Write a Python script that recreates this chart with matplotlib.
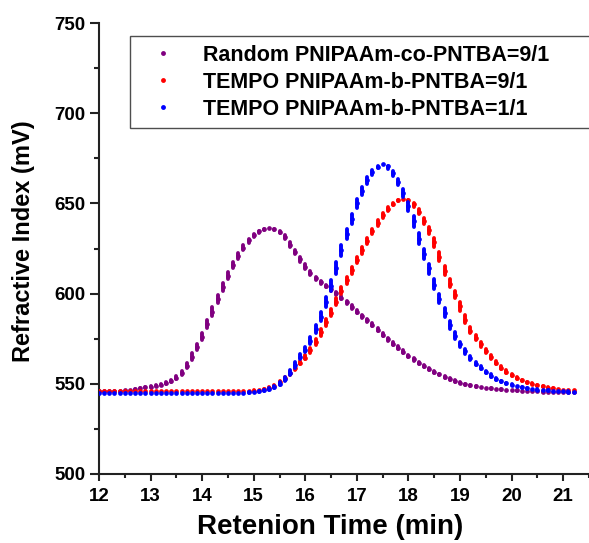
import numpy as np
import matplotlib
matplotlib.use("Agg")
import matplotlib.pyplot as plt
from matplotlib.lines import Line2D

plt.rcParams['font.family'] = ['Liberation Sans', 'DejaVu Sans']
plt.rcParams['font.weight'] = 'bold'

# Retention time grid (min), 0.1 min sampling
time = [12.0, 12.1, 12.2, 12.3, 12.4, 12.5, 12.6, 12.7, 12.8, 12.9,
        13.0, 13.1, 13.2, 13.3, 13.4, 13.5, 13.6, 13.7, 13.8, 13.9,
        14.0, 14.1, 14.2, 14.3, 14.4, 14.5, 14.6, 14.7, 14.8, 14.9,
        15.0, 15.1, 15.2, 15.3, 15.4, 15.5, 15.6, 15.7, 15.8, 15.9,
        16.0, 16.1, 16.2, 16.3, 16.4, 16.5, 16.6, 16.7, 16.8, 16.9,
        17.0, 17.1, 17.2, 17.3, 17.4, 17.5, 17.6, 17.7, 17.8, 17.9,
        18.0, 18.1, 18.2, 18.3, 18.4, 18.5, 18.6, 18.7, 18.8, 18.9,
        19.0, 19.1, 19.2, 19.3, 19.4, 19.5, 19.6, 19.7, 19.8, 19.9,
        20.0, 20.1, 20.2, 20.3, 20.4, 20.5, 20.6, 20.7, 20.8, 20.9,
        21.0, 21.1, 21.2]

random_co_9_1 = [546, 546, 546, 546, 546, 546.5, 546.5, 547, 547.5, 548,
                 548.5, 549, 549.5, 550.3, 551.6, 553.3, 556, 559.8, 565, 570.5,
                 576, 583, 590, 597, 603.5, 610, 616, 621, 625.5, 629.5,
                 632.5, 634.5, 635.8, 636.2, 635.8, 634.3, 631.5, 627, 623, 619,
                 614.8, 611.2, 608.5, 606.2, 604.2, 602.3, 600.3, 597.8, 595.3, 592.5,
                 590, 587.5, 585.2, 582.8, 580, 577.2, 574.6, 572.2, 570, 567.7,
                 565.5, 563.5, 561.5, 559.8, 558.2, 556.7, 555.2, 553.8, 552.6, 551.5,
                 550.5, 549.7, 549.1, 548.6, 548.2, 547.8, 547.4, 547.1, 546.9, 546.7,
                 546.5, 546.3, 546.1, 546.0, 545.9, 545.8, 545.7, 545.6, 545.6, 545.5,
                 545.5, 545.5, 545.5]

tempo_b_9_1 = [546, 546, 546, 546, 546, 546, 546, 546, 546, 546,
               546, 546, 546, 546, 546, 546, 546, 546, 546, 546,
               546, 546, 546, 546, 546, 546, 546, 546, 546, 546.1,
               546.2, 546.5, 547, 547.8, 549, 550.8, 553, 555.8, 558.8, 561.8,
               564.5, 568.5, 573, 578.5, 584, 589.4, 595.5, 601.5, 607.3, 613,
               618.6, 624, 629.3, 634.5, 639.3, 643.5, 647, 649.8, 651.7, 652.5,
               651.8, 649.5, 645.5, 640.5, 635, 628.5, 620.5, 612.8, 605.5, 599.5,
               593, 585.5, 579.3, 575.6, 571.8, 568, 564.7, 561.8, 559, 556.8,
               555, 553.3, 551.9, 550.8, 550, 549.2, 548.6, 547.9, 547.5, 547.1,
               546.7, 546.5, 546.3]

tempo_b_1_1 = [545, 545, 545, 545, 545, 545, 545, 545, 545, 545,
               545, 545, 545, 545, 545, 545, 545, 545, 545, 545,
               545, 545, 545, 545, 545, 545, 545, 545, 545, 545.2,
               545.5, 545.8, 546.3, 547, 548.2, 550, 552.5, 556, 560.5, 565,
               568.8, 573.9, 580.3, 587, 595.3, 604.3, 614, 624, 633, 641.5,
               650, 657, 663, 667.5, 670.3, 671.8, 670.5, 667, 662, 656,
               648.5, 640, 630.5, 622, 614, 605, 597, 589.5, 582.5, 576.5,
               571.8, 568, 564.3, 561.2, 558.9, 556.5, 554.5, 552.7, 551.4, 550.3,
               549.5, 548.8, 548.1, 547.5, 547.1, 546.8, 546.5, 546.3, 546.1, 545.9,
               545.8, 545.7, 545.6]

labels = ["Random PNIPAAm-co-PNTBA=9/1",
          "TEMPO PNIPAAm-b-PNTBA=9/1",
          "TEMPO PNIPAAm-b-PNTBA=1/1"]
colors = ["#800080", "#FF0000", "#0000FF"]
series = [random_co_9_1, tempo_b_9_1, tempo_b_1_1]

xticks = [12, 13, 14, 15, 16, 17, 18, 19, 20, 21]
yticks = [500, 550, 600, 650, 700, 750]

W, H = 589, 543
fig = plt.figure(figsize=(W / 100, H / 100), dpi=100)
ax = fig.add_axes([99 / W, 69 / H, 490 / W, 451 / H])

t = np.asarray(time)
for y, c in zip(series, colors):
    y = np.asarray(y, dtype=float)
    prev = np.concatenate([[y[0]], y[:-1]])
    nxt = np.concatenate([y[1:], [y[-1]]])
    lo = y - 0.33 * (y - prev)
    hi = y + 0.33 * (nxt - y)
    ax.vlines(t, lo, hi, colors=c, linewidth=2.8, capstyle='round', zorder=3)
    ax.plot(t, y, 'o', ms=3.4, color=c, mec='none', zorder=3)

ax.set_xlim(12, 21.2)
ax.set_ylim(500, 750)
ax.set_xticks(xticks)
ax.set_yticks(yticks)
ax.set_xticks([v + 0.5 for v in xticks], minor=True)
ax.set_yticks([v + 25 for v in yticks[:-1]], minor=True)

for s in ['top', 'right']:
    ax.spines[s].set_visible(False)
for s in ['left', 'bottom']:
    ax.spines[s].set_linewidth(1.5)
    ax.spines[s].set_color('#222222')

ax.tick_params(axis='x', which='major', direction='out', length=5, width=1.5,
               labelsize=13.5, pad=5, color='#222222')
ax.tick_params(axis='x', which='minor', direction='out', length=3, width=1.5, color='#222222')
ax.tick_params(axis='y', which='major', direction='out', length=6.5, width=1.5,
               labelsize=13.5, pad=3, color='#222222')
ax.tick_params(axis='y', which='minor', direction='out', length=3.5, width=1.5, color='#222222')
for lab in ax.get_xticklabels() + ax.get_yticklabels():
    lab.set_fontweight('bold')

ax.set_xlabel("Retenion Time (min)", fontsize=20, fontweight='bold')
ax.xaxis.set_label_coords(0.472, -0.088)
ax.set_ylabel("Refractive Index (mV)", fontsize=17, fontweight='bold')
ax.yaxis.set_label_coords(-0.13, 0.517)

handles = [Line2D([], [], marker='o', ms=3.5, color=c, mec='none', linestyle='none')
           for c in colors]
leg = ax.legend(handles, labels, loc='upper left',
                bbox_to_anchor=(0.063, 0.769, 0.96, 0.202), mode='expand',
                borderaxespad=0, fancybox=False, frameon=True,
                prop={'size': 15.5, 'weight': 'bold'},
                handlelength=2.27, handletextpad=0.73, labelspacing=0.28,
                borderpad=0.4)
leg.get_frame().set_edgecolor('#222222')
leg.get_frame().set_linewidth(1.0)

fig.savefig("out.png", dpi=100)
